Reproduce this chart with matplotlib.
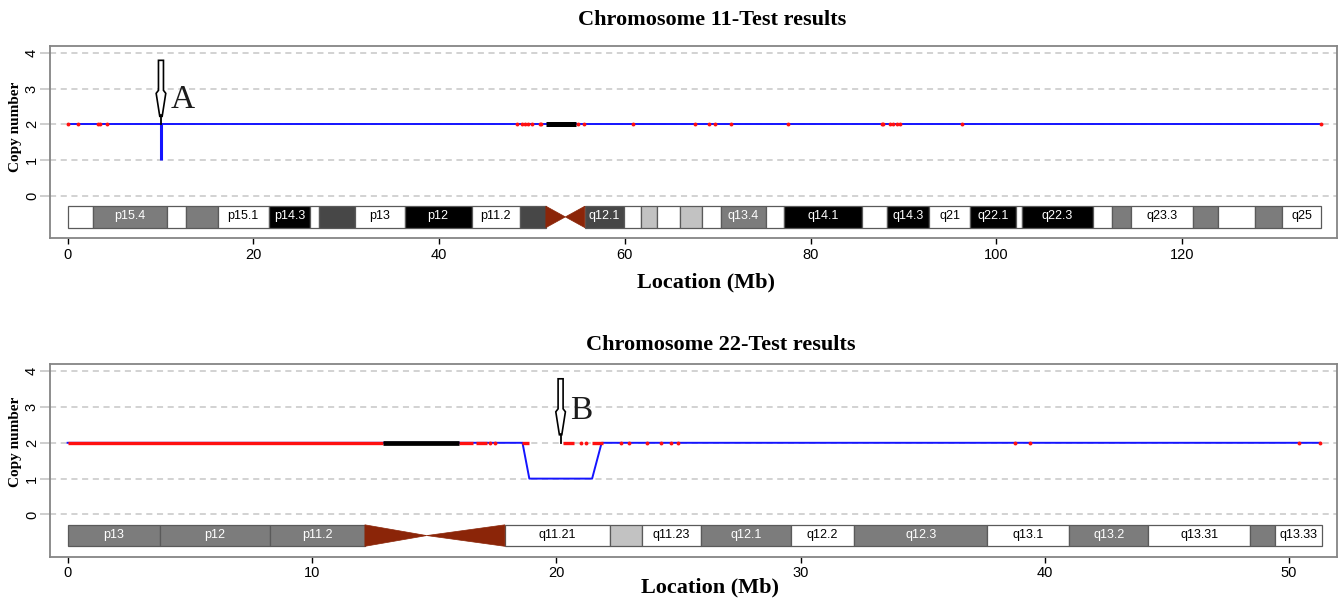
import matplotlib
matplotlib.use("Agg")
import matplotlib.pyplot as plt
from matplotlib.patches import Rectangle, Polygon
from matplotlib import transforms

# ---------------- data ----------------
chr11_len = 135.0
chr11_seg_x = [0, 135.0]
chr11_seg_y = [2, 2]
chr11_del_x = 10.05
chr11_del_y = [1, 2]
chr11_red = [0, 1.14, 3.3, 3.45, 4.23, 48.4, 48.9, 49.2, 49.6, 49.97, 50.9,
             51.0, 55.0, 55.6, 60.9, 67.55, 69.06, 69.7, 71.4, 77.6, 87.65,
             87.8, 88.6, 88.9, 89.3, 89.6, 96.3, 135.0]
chr11_black = [(51.5, 54.7)]

chr11_band_start = [0, 2.69, 10.66, 12.7, 16.15, 21.65, 26.1, 27.1, 30.97, 36.3,
                    43.5, 48.7, 55.7, 59.9, 61.7, 63.46, 65.9, 68.3, 70.35, 75.2,
                    77.1, 85.57, 88.2, 92.8, 97.2, 102.1, 102.8, 110.4, 112.5,
                    114.5, 121.2, 123.9, 127.9, 130.8]
chr11_band_end = [2.69, 10.66, 12.7, 16.15, 21.65, 26.1, 27.1, 30.97, 36.3, 43.5,
                  48.7, 51.5, 59.9, 61.7, 63.46, 65.9, 68.3, 70.35, 75.2, 77.1,
                  85.57, 88.2, 92.8, 97.2, 102.1, 102.8, 110.4, 112.5, 114.5,
                  121.2, 123.9, 127.9, 130.8, 135.0]
chr11_band_stain = ["w", "g", "w", "g", "w", "b", "w", "d", "w", "b",
                    "w", "d", "d", "w", "l", "w", "l", "w", "g", "w",
                    "b", "w", "b", "w", "b", "w", "b", "w", "g",
                    "w", "g", "w", "g", "w"]
chr11_band_name = ["", "p15.4", "", "", "p15.1", "p14.3", "", "", "p13", "p12",
                   "p11.2", "", "q12.1", "", "", "", "", "", "q13.4", "",
                   "q14.1", "", "q14.3", "q21", "q22.1", "", "q22.3", "", "",
                   "q23.3", "", "", "", "q25"]
chr11_cen = (51.5, 53.6, 55.7)

chr22_len = 51.26
chr22_seg_x = [0, 18.62, 18.9, 21.47, 21.86, 51.26]
chr22_seg_y = [2, 2, 1, 1, 2, 2]
chr22_red_runs = [(0, 12.92), (16.03, 16.6), (16.7, 17.15), (18.62, 18.9),
                  (20.29, 20.72), (21.45, 21.9)]
chr22_red = [17.29, 17.49, 21.0, 21.24, 22.64, 23.0, 23.7, 24.3, 24.7, 25.0,
             38.8, 39.4, 50.4, 51.26]
chr22_black = [(12.92, 16.03)]

chr22_band_start = [0, 3.79, 8.28, 17.9, 22.2, 23.52, 25.92, 29.6, 32.2, 37.64,
                    41.0, 44.23, 48.4, 49.42]
chr22_band_end = [3.79, 8.28, 12.17, 22.2, 23.52, 25.92, 29.6, 32.2, 37.64, 41.0,
                  44.23, 48.4, 49.42, 51.35]
chr22_band_stain = ["g", "g", "g", "w", "l", "w", "g", "w", "g", "w",
                    "g", "w", "g", "w"]
chr22_band_name = ["p13", "p12", "p11.2", "q11.21", "", "q11.23", "q12.1", "q12.2",
                   "q12.3", "q13.1", "q13.2", "q13.31", "", "q13.33"]
chr22_cen = (12.17, 14.7, 17.9)

arrow_a = (10.05, "A")
arrow_b = (20.18, "B")

# ---------------- style ----------------
W, H = 1340, 598
STAIN = {"w": "#ffffff", "g": "#7c7c7c", "d": "#474747", "b": "#000000", "l": "#c2c2c2"}
TXT = {"w": "black", "g": "white", "d": "white", "b": "white", "l": "black"}
CEN_COLOR = "#8b2508"
BAND_TOP, BAND_BOT = -0.29, -0.89
SERIF = ["Liberation Serif", "DejaVu Serif"]
SANS = ["Liberation Sans", "DejaVu Sans"]


def fx(px):
    return px / W


def fy(py):
    return 1 - py / H


def setup_axes(ax, xlim, xticks):
    ax.set_xlim(*xlim)
    ax.set_ylim(-1.18, 4.2)
    for y in range(5):
        ax.axhline(y, color="#c6c6c6", lw=1.1, ls=(0, (4, 3)), zorder=0)
    ax.set_xticks(xticks)
    ax.set_yticks(range(5))
    for lab in ax.get_xticklabels() + ax.get_yticklabels():
        lab.set_fontfamily(SANS)
        lab.set_fontsize(10.5)
    for lab in ax.get_yticklabels():
        lab.set_rotation(90)
        lab.set_va("center")
    ax.tick_params(axis="x", length=4, width=1, color="black", pad=3)
    ax.tick_params(axis="y", length=7, width=1.2, color="#c6c6c6", pad=1)
    for sp in ax.spines.values():
        sp.set_color("#858585")
        sp.set_linewidth(1.3)


def draw_ideogram(ax, starts, ends, stains, names, cen):
    h = BAND_TOP - BAND_BOT
    mid = (BAND_TOP + BAND_BOT) / 2
    for s, e, st, nm in zip(starts, ends, stains, names):
        ax.add_patch(Rectangle((s, BAND_BOT), e - s, h, facecolor=STAIN[st],
                               edgecolor="#5a5a5a", lw=0.9, zorder=2))
        if nm:
            ax.text((s + e) / 2, mid + 0.02, nm, ha="center", va="center",
                    fontsize=9, color=TXT[st], family=SANS, zorder=3)
    c0, cm, c1 = cen
    ax.add_patch(Polygon([(c0, BAND_TOP), (c0, BAND_BOT), (cm, mid)],
                         closed=True, facecolor=CEN_COLOR, edgecolor=CEN_COLOR,
                         lw=0.5, zorder=2))
    ax.add_patch(Polygon([(c1, BAND_TOP), (c1, BAND_BOT), (cm, mid)],
                         closed=True, facecolor=CEN_COLOR, edgecolor=CEN_COLOR,
                         lw=0.5, zorder=2))


def draw_arrow(fig, ax, x, letter, lx, ly):
    # hollow needle arrow, shape in pixels relative to its tip on the y=2 line
    shape = [(-2.5, 64), (2.5, 64), (2.5, 34), (4.8, 31), (1.2, 8), (-1.2, 8),
             (-4.8, 31), (-2.5, 34)]
    tr = transforms.Affine2D().scale(fig.dpi / 100) + \
        transforms.ScaledTranslation(x, 2, ax.transData)
    ax.add_patch(Polygon(shape, closed=True, facecolor="white", edgecolor="black",
                         lw=1.2, transform=tr, zorder=6, clip_on=False))
    ax.plot([0, 0], [0, 9], color="black", lw=1.3, transform=tr, zorder=6,
            clip_on=False)
    ax.text(lx, ly, letter, transform=tr, fontsize=24, family=SERIF,
            color="#1c1c1c", ha="center", va="center", zorder=6)


fig = plt.figure(figsize=(W / 100, H / 100), dpi=100)

# ---------------- chromosome 11 ----------------
ax1 = fig.add_axes([fx(50), fy(238), fx(1287), 192.3 / H])
setup_axes(ax1, (-1.9, 136.7), range(0, 121, 20))
ax1.plot(chr11_seg_x, chr11_seg_y, color="#1414ff", lw=1.4, zorder=3)
ax1.vlines(chr11_del_x, chr11_del_y[0], chr11_del_y[1], color="#1414ff", lw=2.2,
           zorder=3)
for s, e in chr11_black:
    ax1.plot([s, e], [2, 2], color="black", lw=3.6, solid_capstyle="butt", zorder=4)
ax1.plot(chr11_red, [2] * len(chr11_red), "o", color="#ff1010", ms=2.8, mew=0,
         zorder=5)
draw_ideogram(ax1, chr11_band_start, chr11_band_end, chr11_band_stain,
              chr11_band_name, chr11_cen)
draw_arrow(fig, ax1, arrow_a[0], arrow_a[1], 22, 25)

# ---------------- chromosome 22 ----------------
ax2 = fig.add_axes([fx(50), fy(556.7), fx(1287), 192.7 / H])
setup_axes(ax2, (-0.72, 51.96), range(0, 51, 10))
ax2.plot(chr22_seg_x, chr22_seg_y, color="#1414ff", lw=1.4, zorder=3)
for s, e in chr22_red_runs:
    ax2.plot([s, e], [2, 2], color="#ff1010", lw=2.4, solid_capstyle="butt",
             zorder=4)
for s, e in chr22_black:
    ax2.plot([s, e], [2, 2], color="black", lw=3.4, solid_capstyle="butt", zorder=4)
ax2.plot(chr22_red, [2] * len(chr22_red), "o", color="#ff1010", ms=2.8, mew=0,
         zorder=5)
draw_ideogram(ax2, chr22_band_start, chr22_band_end, chr22_band_stain,
              chr22_band_name, chr22_cen)
draw_arrow(fig, ax2, arrow_b[0], arrow_b[1], 21, 32)

# ---------------- text ----------------
fig.text(fx(712), fy(20), "Chromosome 11-Test results", ha="center", va="center",
         fontsize=16, fontweight="bold", family=SERIF)
fig.text(fx(721), fy(345), "Chromosome 22-Test results", ha="center", va="center",
         fontsize=16, fontweight="bold", family=SERIF)
fig.text(fx(706), fy(282), "Location (Mb)", ha="center", va="center",
         fontsize=16, fontweight="bold", family=SERIF)
fig.text(fx(710), fy(587), "Location (Mb)", ha="center", va="center",
         fontsize=16, fontweight="bold", family=SERIF)
fig.text(fx(16), fy(126.5), "Copy number", ha="center", va="center", rotation=90,
         fontsize=11, fontweight="bold", family=SERIF)
fig.text(fx(16), fy(441.5), "Copy number", ha="center", va="center", rotation=90,
         fontsize=11, fontweight="bold", family=SERIF)

fig.savefig("out.png", dpi=100)
